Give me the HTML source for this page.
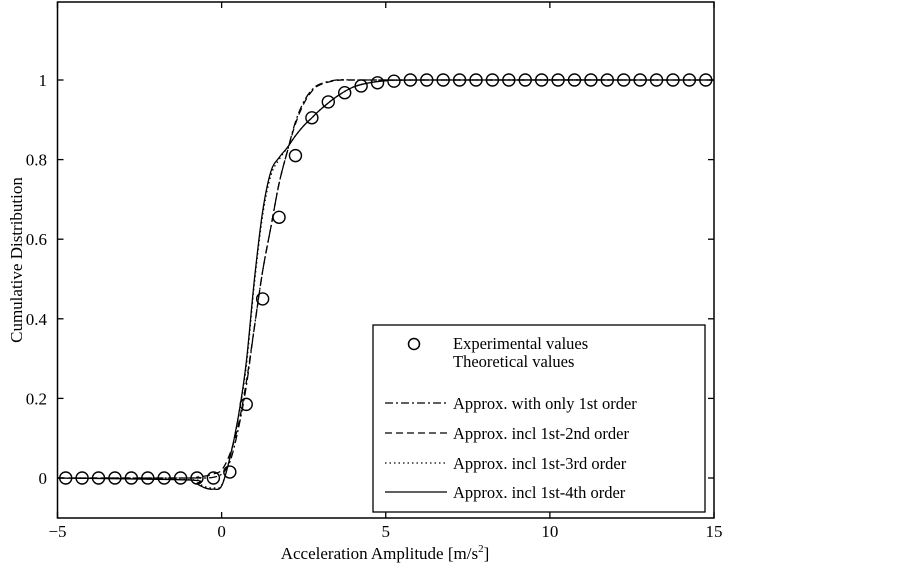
<!DOCTYPE html>
<html><head><meta charset="utf-8"><style>
body{margin:0;background:#fff}
svg{display:block;font-family:"Liberation Serif",serif}
</style></head><body>
<svg id="chart" width="903" height="569" viewBox="0 0 903 569" xmlns="http://www.w3.org/2000/svg">
<g id="plot"></g>
</svg>
<script>
const xTicks=[-5,0,5,10,15];
const yTicks=[0,0.2,0.4,0.6,0.8,1];
const yTickLabels=["0","0.2","0.4","0.6","0.8","1"];
const expX=[];for(let k=0;k<40;k++)expX.push(-4.75+0.5*k);
const expY=[0,0,0,0,0,0,0,0,0,0,0.015,0.185,0.45,0.655,0.81,0.905,0.945,0.968,0.985,0.993,0.997,1,1,1,1,1,1,1,1,1,1,1,1,1,1,1,1,1,1,1];
const curveX=[-5,-1,-0.75,-0.5,-0.25,0,0.25,0.5,0.75,1,1.25,1.5,1.75,2,2.25,2.5,2.75,3,3.5,4,4.5,5,6,15];
const order1=[0,0,0,0,0.002,0.01,0.04,0.12,0.23,0.38,0.52,0.63,0.74,0.82,0.895,0.945,0.975,0.99,1,1,1,1,1,1];
const order2=[0,0,0.002,0.005,0.01,0.02,0.06,0.13,0.24,0.38,0.52,0.63,0.74,0.82,0.89,0.94,0.972,0.988,0.999,1,1,1,1,1];
const order3=[0,-0.004,-0.012,-0.022,-0.025,-0.018,0.05,0.15,0.28,0.49,0.66,0.76,0.8,0.83,0.86,0.885,0.905,0.925,0.958,0.982,0.993,0.998,1,1];
const order4=[0,-0.005,-0.015,-0.025,-0.028,-0.02,0.05,0.15,0.29,0.5,0.67,0.77,0.805,0.83,0.86,0.885,0.905,0.925,0.958,0.982,0.993,0.998,1,1];

const L=57.5,R=714,T=2,B=518;
const X=v=>L+(v+5)/20*(R-L);
const Y=v=>478-v*398;
const NS="http://www.w3.org/2000/svg";
const g=document.getElementById('plot');
function mk(tag,attrs,parent){const e=document.createElementNS(NS,tag);for(const k in attrs)e.setAttribute(k,attrs[k]);(parent||g).appendChild(e);return e;}

const frame=mk('rect',{x:L,y:T,width:R-L,height:B-T,fill:'none',stroke:'#000','stroke-width':1.5});



xTicks.forEach(t=>{
  const x=X(t);
  const a=mk('line',{x1:x,y1:B,x2:x,y2:B-6,stroke:'#000','stroke-width':1.3});
  
  
  const b=mk('line',{x1:x,y1:T,x2:x,y2:T+6,stroke:'#000','stroke-width':1.3});
  
  
  const tx=mk('text',{x:x,y:537,'text-anchor':'middle','font-size':17});
  tx.textContent=(t<0?'\u2212'+(-t):String(t));
  
  
});
yTicks.forEach((t,i)=>{
  const y=Y(t);
  const a=mk('line',{x1:L,y1:y,x2:L+6,y2:y,stroke:'#000','stroke-width':1.3});
  
  
  const b=mk('line',{x1:R,y1:y,x2:R-6,y2:y,stroke:'#000','stroke-width':1.3});
  
  
  const tx=mk('text',{x:47,y:y+6,'text-anchor':'end','font-size':17});
  tx.textContent=yTickLabels[i];
  
  
});

const xl=mk('text',{x:385,y:559,'text-anchor':'middle','font-size':17});
xl.innerHTML='Acceleration Amplitude [m/s<tspan font-size="11" dy="-7">2</tspan><tspan dy="7">]</tspan>';


const yl=mk('text',{x:0,y:0,'text-anchor':'middle','font-size':17,transform:'translate(22,260) rotate(-90)'});
yl.textContent='Cumulative Distribution';



function path(xs,ys){
  const p=xs.map((x,i)=>[X(x),Y(ys[i])]);
  let d='M'+p[0][0]+','+p[0][1];
  for(let i=0;i<p.length-1;i++){
    const p0=p[i-1]||p[i],p1=p[i],p2=p[i+1],p3=p[i+2]||p2;
    const c1=[p1[0]+(p2[0]-p0[0])/6,p1[1]+(p2[1]-p0[1])/6];
    const c2=[p2[0]-(p3[0]-p1[0])/6,p2[1]-(p3[1]-p1[1])/6];
    d+=` C${c1[0]},${c1[1]} ${c2[0]},${c2[1]} ${p2[0]},${p2[1]}`;
  }
  return d;
}
const styles=[[order1,'8,3,2,3','series-order1'],[order2,'7,4','series-order2'],[order3,'1.5,3','series-order3'],[order4,'','series-order4']];
styles.forEach(s=>{
  const e=mk('path',{d:path(curveX,s[0]),fill:'none',stroke:'#000','stroke-width':1.3,'stroke-dasharray':s[1]||'none'});
  
  
});
expX.forEach((x,i)=>{
  const c=mk('circle',{cx:X(x),cy:Y(expY[i]),r:6,fill:'none',stroke:'#000','stroke-width':1.4});
  
  
});

const lg=mk('g',{});


mk('rect',{x:373,y:325,width:332,height:187,fill:'#fff',stroke:'#000','stroke-width':1.3},lg);
mk('circle',{cx:414,cy:344,r:5.5,fill:'none',stroke:'#000','stroke-width':1.5},lg);
const rows=[['Experimental values',349],['Theoretical values',367],['Approx. with only 1st order',409],['Approx. incl  1st-2nd order',439],['Approx. incl  1st-3rd order',469],['Approx. incl  1st-4th order',498]];
rows.forEach((r,i)=>{
  const t=mk('text',{x:453,y:r[1],'font-size':16.5,'xml:space':'preserve'},lg);
  t.textContent=r[0];
  
  
  if(i>=2){
    const s=styles[i-2];
    mk('line',{x1:385,y1:r[1]-6,x2:447,y2:r[1]-6,stroke:'#000','stroke-width':1.3,'stroke-dasharray':s[1]||'none'},lg);
  }
});
</script>
</body></html>
